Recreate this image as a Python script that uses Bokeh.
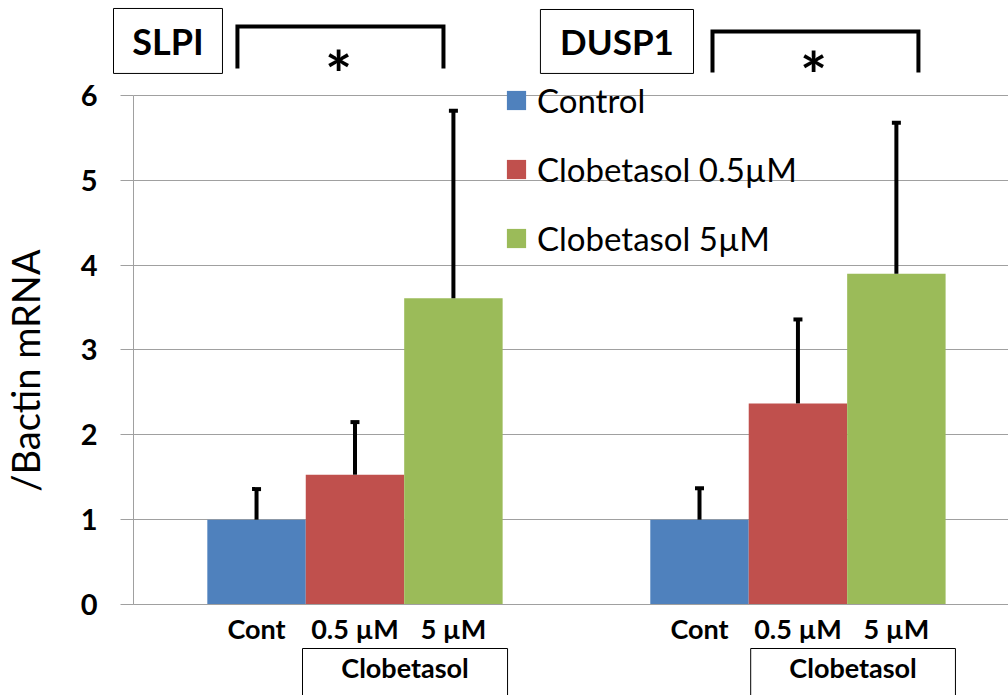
import math
from bokeh.plotting import figure
from bokeh.models import (Range1d, FixedTicker, Whisker, TeeHead, ColumnDataSource,
                          Legend, LegendItem, Label)
from bokeh.embed import file_html
from bokeh.resources import INLINE

# ---------------- data ----------------
genes = ["SLPI", "DUSP1"]
series = ["Control", "Clobetasol 0.5µM", "Clobetasol 5µM"]
tick_labels = ["Cont", "0.5 µM", "5 µM"]
group_label = "Clobetasol"
control = [1.00, 1.00]
clob_05 = [1.53, 2.37]
clob_5 = [3.61, 3.90]
control_err = [0.36, 0.37]
clob_05_err = [0.62, 0.99]
clob_5_err = [2.21, 1.78]
y_ticks = [0, 1, 2, 3, 4, 5, 6]
y_title = "/Bactin mRNA"
significance = ["*", "*"]

colors = ["#4F81BD", "#C0504D", "#9BBB59"]
FONT = "Lato"

# ---------------- layout ----------------
GROUP_W = 4.5
BAR_W = 1.0
X_START, X_END = -1.351, 8.889     # whole canvas is the frame
Y_START, Y_END = -1.073, 7.120


def xpos(gi, sj):
    return gi * GROUP_W + GROUP_W / 2 + (sj - 1) * BAR_W


p = figure(width=1008, height=695, x_range=Range1d(X_START, X_END),
           y_range=Range1d(Y_START, Y_END),
           output_backend="svg", toolbar_location=None, min_border=0)
p.min_border_left = p.min_border_right = p.min_border_top = p.min_border_bottom = 0
p.outline_line_color = None
p.background_fill_color = "white"
p.border_fill_color = "white"

values = [control, clob_05, clob_5]
errs = [control_err, clob_05_err, clob_5_err]
renderers = []
for sj, (vals, ers) in enumerate(zip(values, errs)):
    xs = [xpos(gi, sj) for gi in range(len(genes))]
    src = ColumnDataSource(dict(x=xs, top=vals, upper=[v + e for v, e in zip(vals, ers)]))
    r = p.vbar(x="x", top="top", bottom=0, width=BAR_W, source=src,
               fill_color=colors[sj], line_color=None)
    renderers.append(r)
    w = Whisker(base="x", lower="top", upper="upper", source=src, dimension="height",
                line_color="black", line_width=4,
                upper_head=TeeHead(size=9, line_width=4, line_color="black"),
                lower_head=None, level="overlay")
    p.add_layout(w)

# ---------------- axes / grid ----------------
p.xgrid.visible = False
g = p.ygrid[0]
g.grid_line_color = "#A0A0A0"
g.grid_line_width = 1
g.ticker = FixedTicker(ticks=y_ticks)
if "cross_bounds" in g.properties():
    g.cross_bounds = (0, X_END)

ya = p.yaxis[0]
ya.fixed_location = 0
ya.bounds = (0, 6)
ya.ticker = FixedTicker(ticks=y_ticks)
ya.axis_line_color = "#A0A0A0"
ya.major_tick_line_color = "#A0A0A0"
ya.major_tick_out = 13
ya.major_tick_in = 0
ya.minor_tick_line_color = None
ya.major_label_text_font = FONT
ya.major_label_text_font_style = "bold"
ya.major_label_text_font_size = "29px"
ya.major_label_text_color = "black"
ya.major_label_standoff = 23

xa = p.xaxis[0]
all_x = [xpos(gi, sj) for gi in range(len(genes)) for sj in range(len(series))]
xa.fixed_location = 0
xa.bounds = (0, X_END)
xa.ticker = FixedTicker(ticks=all_x)
xa.major_label_overrides = {xpos(gi, sj): tick_labels[sj]
                            for gi in range(len(genes)) for sj in range(len(series))}
xa.axis_line_color = "#A0A0A0"
xa.major_tick_line_color = None
xa.minor_tick_line_color = None
xa.major_label_text_font = FONT
xa.major_label_text_font_style = "bold"
xa.major_label_text_font_size = "27px"
xa.major_label_text_color = "black"
xa.major_label_standoff = 2

# y-axis title
p.add_layout(Label(x=-1.10, y=2.758, text=y_title, angle=math.pi / 2,
                   text_align="center", text_baseline="middle", text_font=FONT,
                   text_font_size="38px", text_color="black"))

# ---------------- legend ----------------
legend = Legend(items=[LegendItem(label=s, renderers=[r]) for s, r in zip(series, renderers)],
                location=(504, 437), orientation="vertical",
                label_text_font=FONT, label_text_font_size="33px", label_text_color="black",
                glyph_width=24, glyph_height=24, label_standoff=9, spacing=29,
                padding=0, margin=0, border_line_color=None, background_fill_alpha=0)
p.add_layout(legend)

# ---------------- titles, brackets, group boxes ----------------
title_boxes = [(-0.203, 0.904, 7.026, 6.260), (4.134, 5.689, 7.014, 6.260)]
title_sizes = ["36px", "35px"]
brackets = [(1.056, 3.149, 6.814, 6.319), (5.882, 7.974, 6.755, 6.271)]
star_base = [6.26, 6.245]
group_boxes = [(1.717, 3.800), (6.270, 8.350)]

p.quad(left=[b[0] for b in title_boxes], right=[b[1] for b in title_boxes],
       top=[b[2] for b in title_boxes], bottom=[b[3] for b in title_boxes],
       fill_color=None, line_color="black", line_width=1)
p.quad(left=[b[0] for b in group_boxes], right=[b[1] for b in group_boxes],
       top=[-0.519] * 2, bottom=[-1.6] * 2,
       fill_color=None, line_color="black", line_width=1)
p.multi_line(xs=[[x0, x0, x1, x1] for (x0, x1, yt, yb) in brackets],
             ys=[[yb, yt, yt, yb] for (x0, x1, yt, yb) in brackets],
             line_color="black", line_width=4, line_join="miter", line_cap="butt")

for gi, gene in enumerate(genes):
    l, r_, t, b = title_boxes[gi]
    p.add_layout(Label(x=(l + r_) / 2, y=(t + b) / 2, text=gene, text_align="center",
                       text_baseline="middle", text_font=FONT, text_font_style="bold",
                       text_font_size=title_sizes[gi], text_color="black"))
    x0, x1, yt, yb = brackets[gi]
    p.add_layout(Label(x=(x0 + x1) / 2 - 0.02, y=star_base[gi], text=significance[gi],
                       text_align="center", text_baseline="alphabetic", text_font=FONT,
                       text_font_style="bold", text_font_size="64px", text_color="black"))
    gl, gr = group_boxes[gi]
    p.add_layout(Label(x=(gl + gr) / 2, y=-0.743, text=group_label, text_align="center",
                       text_baseline="middle", text_font=FONT, text_font_style="bold",
                       text_font_size="27px", text_color="black"))

open("out.html", "w").write(file_html(p, INLINE))
